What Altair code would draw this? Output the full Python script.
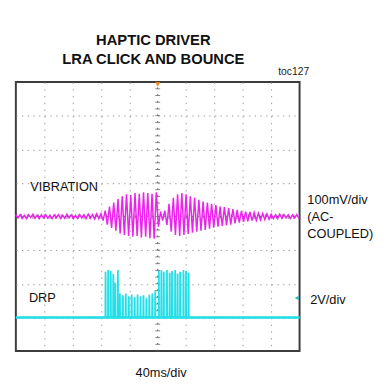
import altair as alt
import pandas as pd

# ---------------- data ----------------
# VIBRATION trace (100 mV/div, AC-coupled), samples every 3 ms from -200 ms, values in divisions
vib_start_ms = -200
vib_step_ms = 3
vib_values = [
    0.05, -0.04, 0.06, -0.05, 0.04, -0.06, 0.05, -0.03, 0.07, -0.05,
    0.04, -0.06, 0.05, -0.04, 0.06, -0.05, 0.03, -0.06, 0.05, -0.04,
    0.06, -0.05, 0.04, -0.05, 0.07, -0.04, 0.05, -0.06, 0.04, -0.05,
    0.06, -0.04, 0.05, -0.06, 0.07, -0.05, 0.06, -0.07, 0.08, -0.06,
    0.09,
    -0.12, 0.18, -0.24, 0.30, -0.34, 0.42, -0.42, 0.52, -0.50, 0.60,
    -0.55, 0.66, -0.58, 0.64, -0.60, 0.70, -0.58, 0.68, -0.62, 0.72,
    -0.60, 0.70, -0.64, 0.68, -0.66, 0.72,
    -0.30, 0.15, -0.12, 0.18, -0.25, 0.38, -0.45, 0.56, -0.55, 0.66,
    -0.58, 0.70, -0.55, 0.66, -0.52, 0.60, -0.48, 0.56, -0.45, 0.50,
    -0.42, 0.45, -0.40, 0.42, -0.36, 0.38, -0.33, 0.34, -0.30, 0.30,
    -0.28, 0.28, -0.26, 0.25, -0.24, 0.22, -0.20, 0.20, -0.18, 0.17,
    -0.16, 0.15, -0.14, 0.14, -0.12, 0.12, -0.11, 0.10, -0.10, 0.09,
    -0.09, 0.08, -0.08, 0.07,
    -0.06, 0.05, -0.06, 0.07, -0.05, 0.06, -0.04, 0.05, -0.06, 0.05,
    -0.04, 0.06, -0.05,
]

# DRP trace (2 V/div): baseline level and PWM spikes (time ms, top level in divisions)
drp_base = -3.0
drp_spike_ms = [
    -73.6, -69.9, -66.2, -62.6, -59.8, -56.1,
    -53.3, -49.1, -45.0, -40.8, -36.7, -32.5, -28.4, -24.2, -20.1, -15.9, -11.8, -7.6, -3.5,
    1.6, 5.2, 8.6, 13.1, 16.9, 20.1, 24.6, 28.0, 31.6, 36.3, 39.9, 43.6,
]
drp_spike_top = [
    -1.66, -1.61, -1.64, -1.72, -1.99, -1.61,
    -2.31, -2.36, -2.31, -2.39, -2.34, -2.42, -2.34, -2.39, -2.36, -2.45, -2.34, -2.31, -2.22,
    -1.64, -1.61, -1.66, -1.61, -1.69, -1.64, -1.61, -1.72, -1.66, -1.61, -1.64, -1.69,
]
# faint fill inside the PWM bursts
drp_seg_start = [-74.5, -54.0, 1.0]
drp_seg_end = [-55.5, -3.0, 44.5]
drp_seg_top = [-1.8, -2.38, -1.68]

# screen texts
title_lines = ["HAPTIC DRIVER", "LRA CLICK AND BOUNCE"]
right_labels = ["100mV/div", "(AC-", "COUPLED)"]

# ---------------- build tables ----------------
vib_df = pd.DataFrame({
    "t": [vib_start_ms + vib_step_ms * i for i in range(len(vib_values))],
    "v": vib_values,
})

drp_rows = [(-200.0, drp_base)]
for ts, top in zip(drp_spike_ms, drp_spike_top):
    drp_rows += [(ts - 0.45, drp_base), (ts - 0.2, top), (ts + 0.2, top), (ts + 0.45, drp_base)]
drp_rows.append((200.0, drp_base))
drp_df = pd.DataFrame({"t": [r[0] for r in drp_rows], "v": [r[1] for r in drp_rows],
                       "idx": list(range(len(drp_rows)))})
seg_df = pd.DataFrame({"t": drp_seg_start, "t2": drp_seg_end,
                       "v": [drp_base] * 3, "v2": drp_seg_top})

FONT = "Liberation Sans, Arial, sans-serif"

xs = alt.Scale(domain=[-200, 200], nice=False, zero=False)
ys = alt.Scale(domain=[-4, 4], nice=False, zero=False)
xa = alt.Axis(values=[-160, -120, -80, -40, 40, 80, 120, 160], grid=True, labels=False,
              ticks=False, domain=False, title=None, gridColor="#9a9a9a",
              gridDash=[1.4, 5.45], gridWidth=1)
ya = alt.Axis(values=[-3, -2, -1, 1, 2, 3], grid=True, labels=False,
              ticks=False, domain=False, title=None, gridColor="#9a9a9a",
              gridDash=[1.4, 4.38], gridWidth=1)


def X(f="t"):
    return alt.X(f, type="quantitative", scale=xs, axis=xa)


def Y(f="v"):
    return alt.Y(f, type="quantitative", scale=ys, axis=ya)


# center cross-hair (graticule decoration)
cv_df = pd.DataFrame({"t": [0.0], "v": [-4.0], "v2": [4.0]})
ch_df = pd.DataFrame({"t": [-200.0], "t2": [200.0], "v": [0.0]})
cv_ticks = pd.DataFrame({"t": [0.0] * 41, "v": [-4 + 0.2 * k for k in range(41)]})
ch_ticks = pd.DataFrame({"t": [-200 + 8 * k for k in range(51)], "v": [0.0] * 51})

center_v = alt.Chart(cv_df).mark_rule(color="#555", strokeDash=[1.4, 5.45]).encode(
    x=X(), y=Y(), y2="v2")
center_h = alt.Chart(ch_df).mark_rule(color="#555", strokeDash=[1.4, 4.38]).encode(
    x=X(), x2="t2", y=Y())
cv_tk = alt.Chart(cv_ticks).mark_tick(orient="horizontal", size=5, thickness=1, color="#555").encode(
    x=X(), y=Y())
ch_tk = alt.Chart(ch_ticks).mark_tick(orient="vertical", size=5, thickness=1, color="#555").encode(
    x=X(), y=Y())

MAG = "#ee22ee"
CYAN = "#22dfe8"

seg = alt.Chart(seg_df).mark_rect(color=CYAN, opacity=0.15).encode(
    x=X(), x2="t2", y=Y(), y2="v2")
drp = alt.Chart(drp_df).mark_line(color=CYAN, strokeWidth=1.5).encode(
    x=X(), y=Y(), order="idx:Q")
drp_base_line = alt.Chart(pd.DataFrame({"t": [-200.0], "t2": [200.0], "v": [drp_base]})).mark_rule(
    color=CYAN, strokeWidth=2.6).encode(x=X(), x2="t2", y=Y())
vib = alt.Chart(vib_df).mark_line(color=MAG, strokeWidth=1.5).encode(x=X(), y=Y())

# markers
trig = alt.Chart(pd.DataFrame({"t": [0.0], "v": [3.93]})).mark_point(
    shape="triangle-down", filled=True, color="#ff8c1a", size=28, opacity=1).encode(x=X(), y=Y())
ch2 = alt.Chart(pd.DataFrame({"t": [196.0], "v": [-2.42]})).mark_point(
    shape="triangle-left", filled=True, color="#2ab8b8", size=22, opacity=1).encode(x=X(), y=Y())

# texts
title_df = pd.DataFrame({"t": [-6.2, -6.2], "v": [5.26, 4.67], "s": title_lines})
title = alt.Chart(title_df).mark_text(font=FONT, fontSize=15, fontWeight="bold",
                                      color="#111", baseline="middle", align="center").encode(
    x=X(), y=Y(), text="s:N")
toc = alt.Chart(pd.DataFrame({"t": [191.7], "v": [4.29], "s": ["toc127"]})).mark_text(
    font=FONT, fontSize=10.5, color="#222", baseline="middle", align="center").encode(
    x=X(), y=Y(), text="s:N")
left_df = pd.DataFrame({"t": [-179.7, -181.6], "v": [0.88, -2.42], "s": ["VIBRATION", "DRP"]})
left = alt.Chart(left_df).mark_text(font=FONT, fontSize=13, color="#111",
                                    baseline="middle", align="left").encode(
    x=X(), y=Y(), text="s:N")
right_df = pd.DataFrame({"t": [211.0, 211.0, 211.0, 215.0], "v": [0.5, 0.0, -0.53, -2.47],
                         "s": right_labels + ["2V/div"]})
right = alt.Chart(right_df).mark_text(font=FONT, fontSize=13, color="#111",
                                      baseline="middle", align="left").encode(
    x=X(), y=Y(), text="s:N")
bottom = alt.Chart(pd.DataFrame({"t": [4.8], "v": [-4.66], "s": ["40ms/div"]})).mark_text(
    font=FONT, fontSize=13, color="#111", baseline="middle", align="center").encode(
    x=X(), y=Y(), text="s:N")

chart = alt.layer(
    center_v, center_h, cv_tk, ch_tk, seg, drp_base_line, drp, vib, trig, ch2,
    title, toc, left, right, bottom,
).properties(
    width=289, height=274,
    autosize=alt.AutoSizeParams(type="none"),
    padding={"left": 8, "top": 72, "right": 86, "bottom": 26},
).configure_view(stroke="#3c3c3c", strokeWidth=2)

chart.save("out.html", embed_options={"renderer": "svg", "actions": False})
